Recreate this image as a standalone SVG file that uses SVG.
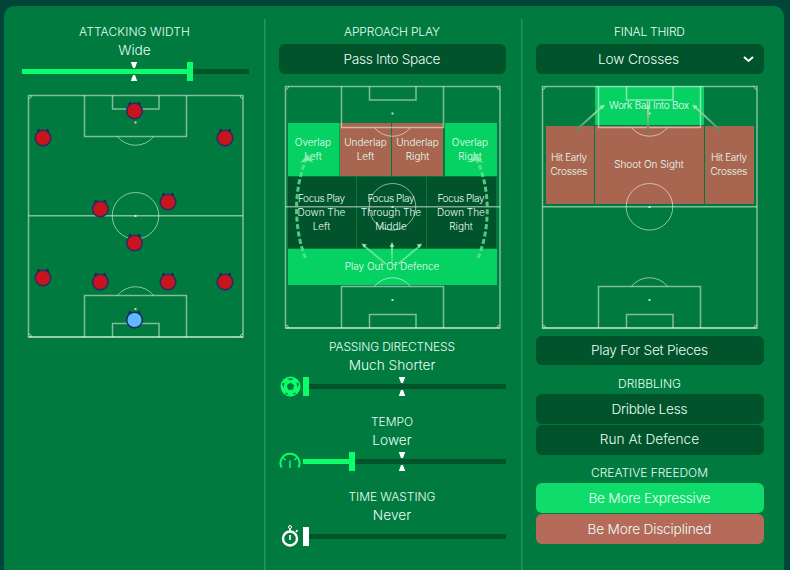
<svg xmlns="http://www.w3.org/2000/svg" xmlns:xlink="http://www.w3.org/1999/xlink" width="790" height="570" viewBox="0 0 790 570">
<style>
text{font-family:"Inter","Noto Sans","Liberation Sans",sans-serif;fill:#e8fff6;text-anchor:middle;font-weight:300}
.h{font-size:12px}
.v{font-size:13.7px}
.z{font-size:10px}
.b{fill:#00532b}
.track{fill:#00532b}
.on{fill:#0cff6a}
.pl{fill:none;stroke:#fff;stroke-opacity:.5;stroke-width:1.5}
.pt{fill:none;stroke:#fff;stroke-opacity:.55;stroke-width:1}
.spot{fill:#fff;fill-opacity:.75}
.p{fill:#c8141e;stroke:#2d2a63;stroke-width:1.5}
.e{fill:#1f2c4a}
.red{fill:#a8654f}
.grn{fill:#06d263}
.drk{fill:#00532b}
.tri{fill:#fff}
.dash{fill:none;stroke:#5fe092;stroke-width:3;stroke-dasharray:5 2.5;opacity:.85}
.head{fill:#8ff0ac;opacity:.85}
.thin{fill:none;stroke-width:1.800}
</style>
<defs>
<g id="pitch">
<rect class="pl" x="0.5" y="0.5" width="214.5" height="241.5"/>
<path class="pl" d="M0.500 242H215" stroke-opacity=".4"/>
<path class="pl" d="M0.5 120.8H215M56.5 .5V41.5H158.5V.5M84.5 .5V14H131V.5M56.5 242V200.5H158.5V242M84.5 242V228.5H131V242"/>
<path class="pt" d="M89.3 41.5A23.3 23.3 0 0 0 125.7 41.5M89.3 200.5A23.3 23.3 0 0 1 125.7 200.5M.5 3.5A3 3 0 0 0 3.5 .5M212 .5A3 3 0 0 0 215 3.5M.5 239A3 3 0 0 1 3.5 242M212 242A3 3 0 0 1 215 239"/>
<circle class="pt" cx="107.5" cy="120.8" r="23.3"/>
<rect class="spot" x="106.5" y="120" width="2" height="2"/>
<rect class="spot" x="106.5" y="26.5" width="2" height="2"/>
<rect class="spot" x="106.5" y="213" width="2" height="2"/>
</g>
<g id="player">
<path class="e" d="M-6-7.8-4.5-9.4-2.7-8H2.7L4.5-9.4 6-7.8V-5H-6Z"/>
<circle class="p" r="7.8"/>
</g>
<path id="down" d="M-3.200 0H3.200L1 6H-1Z"/>
<path id="up" d="M-3.200 6H3.200L1 0H-1Z"/>
<linearGradient id="g1" gradientUnits="userSpaceOnUse" x1="575" y1="131" x2="604" y2="105"><stop offset="0" stop-color="#4f8a5e"/><stop offset="1" stop-color="#a0ecb4"/></linearGradient>
<linearGradient id="g2" gradientUnits="userSpaceOnUse" x1="648" y1="132" x2="648" y2="106"><stop offset="0" stop-color="#5a7f58"/><stop offset="1" stop-color="#a0ecb4"/></linearGradient>
<linearGradient id="g3" gradientUnits="userSpaceOnUse" x1="721" y1="131" x2="693" y2="105"><stop offset="0" stop-color="#4f8a5e"/><stop offset="1" stop-color="#a0ecb4"/></linearGradient>
<linearGradient id="g4" gradientUnits="userSpaceOnUse" x1="392" y1="268" x2="392" y2="243"><stop offset="0" stop-color="#7fe89f" stop-opacity=".2"/><stop offset="1" stop-color="#a0f0b8"/></linearGradient>
</defs>

<rect width="790" height="570" fill="#00453a"/>
<path d="M4 570V18Q4 6 16 6H772Q784 6 784 18V570Z" fill="#007a3f"/>
<rect x="264" y="19" width="1.5" height="551" fill="#2a9460"/>
<rect x="521" y="19" width="1.5" height="551" fill="#2a9460"/>

<g id="attacking-width">
<text class="h" x="134.500" y="36" textLength="111">ATTACKING WIDTH</text>
<text class="v" x="134.500" y="55">Wide</text>
<rect class="track" x="22" y="69" width="227" height="5"/>
<rect class="on" x="22" y="69" width="168" height="5"/>
<rect class="on" x="187" y="62" width="6" height="19"/>
<use class="tri" xlink:href="#down" href="#down" x="134" y="62"/>
<use class="tri" xlink:href="#up" href="#up" x="134" y="75"/>
</g>
<g id="width-pitch">
<use href="#pitch" xlink:href="#pitch" x="28" y="95"/>
<use href="#player" xlink:href="#player" x="134.5" y="111"/>
<use href="#player" xlink:href="#player" x="43" y="138"/>
<use href="#player" xlink:href="#player" x="225" y="138"/>
<use href="#player" xlink:href="#player" x="100.3" y="209"/>
<use href="#player" xlink:href="#player" x="168" y="202"/>
<use href="#player" xlink:href="#player" x="134.5" y="243"/>
<use href="#player" xlink:href="#player" x="43" y="278"/>
<use href="#player" xlink:href="#player" x="100.3" y="282"/>
<use href="#player" xlink:href="#player" x="168" y="282"/>
<use href="#player" xlink:href="#player" x="225" y="282"/>
<g transform="translate(134.5 320)"><path d="M-6-7.8-4.500-9.400-2.700-8H2.700L4.500-9.400 6-7.800V-5H-6Z" fill="#12305f"/><circle r="7.800" fill="#62b8ff" stroke="#12305f" stroke-width="1.500"/></g>
</g>

<g id="approach-play">
<text class="h" x="392" y="36" textLength="96">APPROACH PLAY</text>
<rect class="b" x="279" y="44" width="227" height="30" rx="6"/>
<text class="v" x="392" y="64" textLength="97">Pass Into Space</text>
</g>
<g id="approach-zones">
<rect class="grn" x="288" y="123" width="51.5" height="53"/>
<rect class="red" x="340" y="123" width="51" height="53"/>
<rect class="red" x="392" y="123" width="51" height="53"/>
<rect class="grn" x="445" y="123" width="52" height="53"/>
<rect class="drk" x="288" y="177" width="68" height="71"/>
<rect class="drk" x="357" y="177" width="69" height="71"/>
<rect class="drk" x="427" y="177" width="69" height="71"/>
<rect class="grn" x="288" y="249" width="209" height="36"/>
<use href="#pitch" xlink:href="#pitch" x="285" y="86"/>
</g>
<g id="approach-labels">
<text class="z" x="313" y="146">Overlap</text><text class="z" x="313" y="160">Left</text>
<text class="z" x="365.500" y="146">Underlap</text><text class="z" x="365.500" y="160">Left</text>
<text class="z" x="417.500" y="146">Underlap</text><text class="z" x="417.500" y="160">Right</text>
<text class="z" x="470" y="146">Overlap</text><text class="z" x="470" y="160">Right</text>
<text class="z" x="321.500" y="202" textLength="47">Focus Play</text><text class="z" x="321.500" y="216">Down The</text><text class="z" x="321.500" y="230">Left</text>
<text class="z" x="391" y="202" textLength="47">Focus Play</text><text class="z" x="391" y="216">Through The</text><text class="z" x="391" y="230">Middle</text>
<text class="z" x="461" y="202" textLength="47">Focus Play</text><text class="z" x="461" y="216">Down The</text><text class="z" x="461" y="230">Right</text>
<text class="z" x="392" y="270">Play Out Of Defence</text>
</g>
<g id="approach-connectors">
<path class="dash" d="M305.500 258C294 230 293 190 306 160"/>
<path class="head" d="M307.700 154.500 313.500 162.500 307 160.500 300 163Z"/>
<path class="dash" d="M478 258C490 230 491 190 477 160"/>
<path class="head" d="M475.800 154.500 470 162.500 476.500 160.500 483.500 163Z"/>
<path d="M386 264 363 245" stroke="#8eeda8" stroke-opacity=".7" class="thin"/>
<path d="M392 268V244" stroke="url(#g4)" class="thin"/>
<path d="M398 264 421 245" stroke="#8eeda8" stroke-opacity=".7" class="thin"/>
<path class="head" d="M361.500 243.500 367 244.500 364 248ZM392 242 394.500 247H389.500ZM422 243.500 416.500 244.500 419.500 248Z"/>
</g>

<g id="passing-directness">
<text class="h" x="392" y="351" textLength="126">PASSING DIRECTNESS</text>
<text class="v" x="392" y="370">Much Shorter</text>
<rect class="track" x="303" y="384" width="203" height="5"/>
<rect class="on" x="303" y="377" width="6" height="19"/>
<use class="tri" xlink:href="#down" href="#down" x="402" y="377"/>
<use class="tri" xlink:href="#up" href="#up" x="402" y="390"/>
<circle cx="290.500" cy="386.500" r="10" fill="#0cff6a"/>
<path d="M290.500 382.500 294.300 385.300 292.900 389.800H288.100L286.700 385.300Z" fill="#007a3f"/>
<path d="M287 378.500 294 378.500 290.500 380.500ZM282 383.500 284.500 382.500 283.500 388ZM299 383.500 296.500 382.500 297.500 388ZM285 392.500 288.500 393.500 286.500 394.800ZM296 392.500 292.500 393.500 294.500 394.800Z" fill="#007a3f"/>
</g>
<g id="tempo">
<text class="h" x="392" y="426">TEMPO</text>
<text class="v" x="392" y="445">Lower</text>
<rect class="track" x="303" y="459" width="203" height="5"/>
<rect class="on" x="303" y="459" width="49" height="5"/>
<rect class="on" x="349" y="452" width="6" height="19"/>
<use class="tri" xlink:href="#down" href="#down" x="402" y="452"/>
<use class="tri" xlink:href="#up" href="#up" x="402" y="465"/>
<path d="M281.500 467.500A9.500 9.500 0 1 1 298.500 467.500" fill="none" stroke="#0cff6a" stroke-width="2"/>
<path d="M290 460.500V468M283.500 458 285.500 460M296.500 458 294.500 460" stroke="#0cff6a" stroke-width="1.500"/>
</g>
<g id="time-wasting">
<text class="h" x="392" y="501" textLength="87">TIME WASTING</text>
<text class="v" x="392" y="520">Never</text>
<rect class="track" x="303" y="534" width="203" height="5"/>
<rect x="303" y="527" width="6" height="19" fill="#fff"/>
<circle cx="290" cy="538.500" r="7" fill="none" stroke="#fff" stroke-width="2.400"/>
<path d="M290 535V540M290 531V528M296 532 297.500 530" stroke="#fff" stroke-width="1.600"/>
<circle cx="290" cy="527" r="1.500" fill="none" stroke="#fff"/>
</g>

<g id="final-third">
<text class="h" x="649.500" y="36" textLength="71">FINAL THIRD</text>
<rect class="b" x="536" y="44" width="228" height="30" rx="6"/>
<text class="v" x="638.500" y="64" textLength="81">Low Crosses</text>
<path d="M744 57 748.500 61 753 57" fill="none" stroke="#fff" stroke-width="2"/>
</g>
<g id="final-zones">
<rect class="grn" x="595" y="86" width="109" height="39"/>
<rect class="red" x="546" y="126" width="48" height="78"/>
<rect class="red" x="595" y="126" width="109" height="78"/>
<rect class="red" x="705" y="126" width="49" height="78"/>
<use href="#pitch" xlink:href="#pitch" x="542" y="86"/>
</g>
<g id="final-labels">
<text class="z" x="649" y="109" textLength="80">Work Ball Into Box</text>
<text class="z" x="569" y="161" textLength="36">Hit Early</text><text class="z" x="569" y="175" textLength="37">Crosses</text>
<text class="z" x="649" y="168">Shoot On Sight</text>
<text class="z" x="729" y="161" textLength="36">Hit Early</text><text class="z" x="729" y="175" textLength="37">Crosses</text>
</g>
<g id="final-connectors">
<path d="M575 131 603 106" stroke="url(#g1)" class="thin"/>
<path d="M648 132V106" stroke="url(#g2)" stroke-width="2" fill="none"/>
<path d="M721 131 694 106" stroke="url(#g3)" class="thin"/>
<path d="M605 104.500 599.500 106 602.500 109.500ZM648 104 650.500 109H645.500ZM692 104.500 697.500 106 694.500 109.500Z" fill="#a0ecb4" opacity=".85"/>
</g>

<g id="set-pieces">
<rect class="b" x="536" y="336" width="228" height="29" rx="6"/>
<text class="v" x="649.500" y="355" textLength="117">Play For Set Pieces</text>
</g>
<g id="dribbling">
<text class="h" x="649.500" y="388" textLength="63">DRIBBLING</text>
<rect class="b" x="536" y="394" width="228" height="30" rx="6"/>
<text class="v" x="649.500" y="414" textLength="76">Dribble Less</text>
<rect class="b" x="536" y="425" width="228" height="30" rx="6"/>
<text class="v" x="649.500" y="444">Run At Defence</text>
</g>
<g id="creative-freedom">
<text class="h" x="649.500" y="477" textLength="117">CREATIVE FREEDOM</text>
<rect x="536" y="483" width="228" height="30" rx="6" fill="#10dc6b"/>
<text class="v" x="649.500" y="503" textLength="122">Be More Expressive</text>
<rect x="536" y="514" width="228" height="30" rx="6" fill="#b66a5a"/>
<text class="v" x="649.500" y="534" textLength="124">Be More Disciplined</text>
</g>
</svg>
